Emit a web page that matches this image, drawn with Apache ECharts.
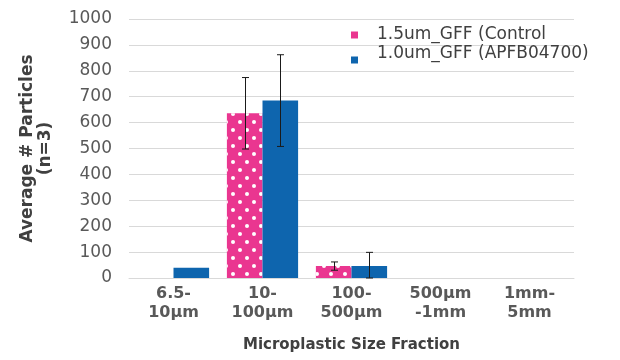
<!DOCTYPE html>
<html><head><meta charset="utf-8">
<script src="https://cdn.jsdelivr.net/npm/echarts@6/dist/echarts.min.js"></script>
<style>html,body{margin:0;padding:0;background:#fff}#c{width:620px;height:360px}</style>
</head><body><div id="c"></div>
<script>
const categories = ['6.5-\n10μm', '10-\n100μm', '100-\n500μm', '500μm\n-1mm', '1mm-\n5mm'];
const seriesNames = ['1.5um_GFF (Control', '1.0um_GFF (APFB04700)'];
const controlValues = [0, 636, 46, 0, 0];
const apfbValues = [40, 685, 46, 0, 0];
const controlErrors = [null, 138, 16, null, null];
const apfbErrors = [null, 177, 53, null, null];
const yTicks = [0, 100, 200, 300, 400, 500, 600, 700, 800, 900, 1000];

const FONT = "'DejaVu Sans', Verdana, sans-serif";
const chart = echarts.init(document.getElementById('c'), null, {renderer: 'canvas'});

function errData(vals, errs) {
  const out = [];
  vals.forEach((v, i) => { if (errs[i] != null) out.push([i, v - errs[i], v + errs[i]]); });
  return out;
}
function errRender(sign, color) {
  return function (params, api) {
    const i = api.value(0);
    const band = api.size([1, 0])[0];
    const off = sign * band * 0.2;
    const lo = api.coord([i, Math.max(api.value(1), 0)]);
    const hi = api.coord([i, api.value(2)]);
    const x = Math.round(lo[0] + off) + 0.5;
    const hw = 3.5;
    const st = {stroke: color, lineWidth: 1};
    return {type: 'group', children: [
      {type: 'line', shape: {x1: x, y1: hi[1], x2: x, y2: lo[1]}, style: st},
      {type: 'line', shape: {x1: x - hw, y1: hi[1], x2: x + hw, y2: hi[1]}, style: st},
      {type: 'line', shape: {x1: x - hw, y1: lo[1], x2: x + hw, y2: lo[1]}, style: st}
    ]};
  };
}

chart.setOption({
  animation: false,
  textStyle: {fontFamily: FONT},
  grid: {left: 129, right: 46, top: 19, bottom: 82},
  legend: [
    {
      data: [seriesNames[0]], orient: 'vertical', left: 351, top: 26, padding: 0,
      itemWidth: 7, itemHeight: 7, icon: 'rect',
      textStyle: {fontFamily: FONT, fontSize: 17, color: '#404040', lineHeight: 18, padding: [0, 0, 0, 14]}
    },
    {
      data: [seriesNames[1]], orient: 'vertical', left: 351, top: 45.5, padding: 0,
      itemWidth: 7, itemHeight: 7, icon: 'rect',
      formatter: name => name + '\n ',
      textStyle: {fontFamily: FONT, fontSize: 17, color: '#404040', lineHeight: 12, padding: [0, 0, 0, 14]}
    }
  ],
  xAxis: {
    type: 'category', data: categories,
    axisLine: {lineStyle: {color: '#d9d9d9'}}, axisTick: {show: false},
    axisLabel: {fontFamily: FONT, fontSize: 16, fontWeight: 'bold', color: '#595959', lineHeight: 19, margin: 6, interval: 0},
    name: 'Microplastic Size Fraction', nameLocation: 'middle', nameGap: 60,
    nameTextStyle: {fontFamily: FONT, fontSize: 15, fontWeight: 'bold', color: '#404040'}
  },
  yAxis: {
    type: 'value', min: yTicks[0], max: yTicks[yTicks.length - 1], interval: yTicks[1] - yTicks[0],
    axisLine: {show: false}, axisTick: {show: false},
    splitLine: {lineStyle: {color: '#d9d9d9'}},
    axisLabel: {fontFamily: FONT, fontSize: 17, color: '#595959', margin: 17, formatter: v => String(v)},
    name: 'Average # Particles\n(n=3)', nameLocation: 'middle', nameGap: 74, nameRotate: 90,
    nameTextStyle: {fontFamily: FONT, fontSize: 17, fontWeight: 'bold', color: '#404040', lineHeight: 18}
  },
  series: [
    {
      name: seriesNames[0], type: 'bar', data: controlValues,
      barGap: 0, barCategoryGap: '20%',
      itemStyle: {
        color: '#ea3690',
        decal: {symbol: 'circle', symbolSize: 1, color: '#ffffff',
          dashArrayX: [[3.4, 9.1], [0, 6.25, 3.4, 2.85]], dashArrayY: [3.4, 3.4]}
      }
    },
    {
      name: seriesNames[1], type: 'bar', data: apfbValues,
      barGap: 0, barCategoryGap: '20%',
      itemStyle: {color: '#0e65ae'}
    },
    {
      type: 'custom', data: errData(controlValues, controlErrors),
      renderItem: errRender(-1, '#1a1a1a'), z: 5, silent: true,
      encode: {x: 0, y: [1, 2]}
    },
    {
      type: 'custom', data: errData(apfbValues, apfbErrors),
      renderItem: errRender(1, '#1a1a1a'), z: 5, silent: true,
      encode: {x: 0, y: [1, 2]}
    }
  ]
});
</script></body></html>
